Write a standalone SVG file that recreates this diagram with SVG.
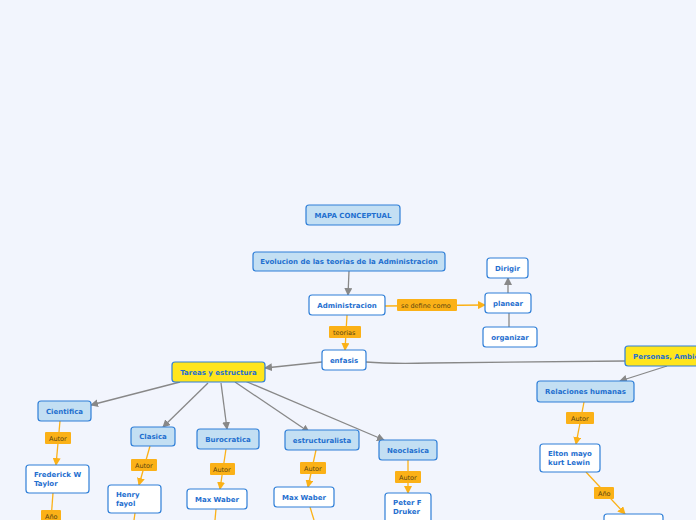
<svg xmlns="http://www.w3.org/2000/svg" width="696" height="520" viewBox="0 0 696 520">
<defs>
<marker id="ag" markerWidth="8" markerHeight="8" refX="7" refY="4" orient="auto" markerUnits="userSpaceOnUse"><path d="M0,0 L8,4 L0,8 Z" fill="#888"/></marker>
<marker id="ao" markerWidth="8" markerHeight="8" refX="7" refY="4" orient="auto" markerUnits="userSpaceOnUse"><path d="M0,0 L8,4 L0,8 Z" fill="#fbb117"/></marker>
</defs>
<style>
.bg{fill:#f2f5fd}
.n rect{stroke:#2f7fd8;stroke-width:1.2}
.b rect{fill:#c3dff3}
.w rect{fill:#ffffff}
.y rect{fill:#ffe51c}
.n text{font-family:"DejaVu Sans",Verdana,sans-serif;font-weight:bold;font-size:7px;fill:#1f6fcf}
.l rect{fill:#fbb117}
.l text{font-family:"DejaVu Sans",sans-serif;font-size:6.5px;fill:#5a4510}
.g{stroke:#888;stroke-width:1.3;fill:none}
.o{stroke:#fbb117;stroke-width:1.3;fill:none}
</style>
<rect class="bg" width="696" height="520"/>
<g id="connectors">
<line class="g" x1="349" y1="271" x2="348" y2="295" marker-end="url(#ag)"/>
<line class="o" x1="385" y1="306" x2="485" y2="305" marker-end="url(#ao)"/>
<line class="g" x1="508" y1="293" x2="508" y2="278" marker-end="url(#ag)"/>
<line class="g" x1="509" y1="327" x2="509" y2="313"/>
<line class="o" x1="347" y1="315" x2="345" y2="350" marker-end="url(#ao)"/>
<line class="g" x1="322" y1="362" x2="265" y2="368" marker-end="url(#ag)"/>
<path class="g" d="M366,362 Q390,364 430,363 L625,361"/>
<line class="g" x1="180" y1="382" x2="91" y2="405" marker-end="url(#ag)"/>
<line class="g" x1="208" y1="383" x2="163" y2="427" marker-end="url(#ag)"/>
<line class="g" x1="221" y1="383" x2="227" y2="429" marker-end="url(#ag)"/>
<line class="g" x1="235" y1="382" x2="309" y2="432" marker-end="url(#ag)"/>
<line class="g" x1="245" y1="381" x2="384" y2="440" marker-end="url(#ag)"/>
<line class="g" x1="667" y1="366" x2="620" y2="381" marker-end="url(#ag)"/>
<line class="o" x1="60" y1="421" x2="56" y2="465" marker-end="url(#ao)"/>
<line class="o" x1="53" y1="493" x2="51" y2="520"/>
<line class="o" x1="150" y1="446" x2="139" y2="485" marker-end="url(#ao)"/>
<line class="o" x1="135" y1="513" x2="134" y2="520"/>
<line class="o" x1="226" y1="449" x2="220" y2="489" marker-end="url(#ao)"/>
<line class="o" x1="216" y1="509" x2="215" y2="520"/>
<line class="o" x1="316" y1="450" x2="308" y2="487" marker-end="url(#ao)"/>
<line class="o" x1="310" y1="507" x2="314" y2="520"/>
<line class="o" x1="408" y1="460" x2="408" y2="493" marker-end="url(#ao)"/>
<line class="o" x1="584" y1="402" x2="576" y2="444" marker-end="url(#ao)"/>
<line class="o" x1="586" y1="472" x2="625" y2="514" marker-end="url(#ao)"/>
</g>
<g id="lbl-sedefine" class="l"><rect x="397" y="299" width="60" height="12" rx="1"/><text x="401" y="307.5">se define como</text></g>
<g id="lbl-teorias" class="l"><rect x="329" y="326" width="32" height="12" rx="1"/><text x="333" y="334.5">teorias</text></g>
<g id="lbl-autor1" class="l"><rect x="45" y="432" width="26" height="12" rx="1"/><text x="49" y="440.5">Autor</text></g>
<g id="lbl-ano1" class="l"><rect x="41" y="510" width="20" height="12" rx="1"/><text x="45" y="518.5">Año</text></g>
<g id="lbl-autor2" class="l"><rect x="131" y="459" width="26" height="12" rx="1"/><text x="135" y="467.5">Autor</text></g>
<g id="lbl-autor3" class="l"><rect x="210" y="463" width="25" height="12" rx="1"/><text x="213" y="471.5">Autor</text></g>
<g id="lbl-autor4" class="l"><rect x="300" y="462" width="26" height="12" rx="1"/><text x="304" y="470.5">Autor</text></g>
<g id="lbl-autor5" class="l"><rect x="395" y="471" width="26" height="12" rx="1"/><text x="399" y="479.5">Autor</text></g>
<g id="lbl-autor6" class="l"><rect x="566" y="412" width="28" height="12" rx="1"/><text x="571" y="420.5">Autor</text></g>
<g id="lbl-ano2" class="l"><rect x="594" y="487" width="20" height="12" rx="1"/><text x="598" y="495.5">Año</text></g>

<g id="n-mapa" class="n b"><rect x="306" y="205" width="94" height="20" rx="3"/><text x="353" y="217.5" text-anchor="middle">MAPA CONCEPTUAL</text></g>
<g id="n-evolucion" class="n b"><rect x="253" y="252" width="192" height="19" rx="3"/><text x="349" y="264" text-anchor="middle">Evolucion de las teorias de la Administracion</text></g>
<g id="n-admin" class="n w"><rect x="309" y="295" width="76" height="20" rx="3"/><text x="347" y="307.5" text-anchor="middle">Administracion</text></g>
<g id="n-dirigir" class="n w"><rect x="487" y="258" width="41" height="20" rx="3"/><text x="507.5" y="270.5" text-anchor="middle">Dirigir</text></g>
<g id="n-planear" class="n w"><rect x="485" y="293" width="46" height="20" rx="3"/><text x="508" y="305.5" text-anchor="middle">planear</text></g>
<g id="n-organizar" class="n w"><rect x="483" y="327" width="54" height="20" rx="3"/><text x="510" y="339.5" text-anchor="middle">organizar</text></g>
<g id="n-enfasis" class="n w"><rect x="322" y="350" width="44" height="20" rx="3"/><text x="344" y="362.5" text-anchor="middle">enfasis</text></g>
<g id="n-tareas" class="n y"><rect x="172" y="362" width="93" height="20" rx="3"/><text x="218.5" y="374.5" text-anchor="middle">Tareas y estructura</text></g>
<g id="n-personas" class="n y"><rect x="625" y="346" width="90" height="20" rx="3"/><text x="633" y="358.5">Personas, Ambiente</text></g>
<g id="n-relaciones" class="n b"><rect x="537" y="381" width="97" height="21" rx="3"/><text x="585.5" y="394" text-anchor="middle">Relaciones humanas</text></g>
<g id="n-elton" class="n w"><rect x="540" y="444" width="60" height="28" rx="3"/><text x="548" y="455.5">Elton mayo</text><text x="548" y="465">kurt Lewin</text></g>
<g id="n-bottom" class="n w"><rect x="604" y="514" width="59" height="20" rx="3"/></g>
<g id="n-cientifica" class="n b"><rect x="38" y="401" width="53" height="20" rx="3"/><text x="64.5" y="413.5" text-anchor="middle">Cientifica</text></g>
<g id="n-frederick" class="n w"><rect x="26" y="465" width="63" height="28" rx="3"/><text x="34" y="477">Frederick W</text><text x="34" y="486">Taylor</text></g>
<g id="n-clasica" class="n b"><rect x="131" y="427" width="44" height="19" rx="3"/><text x="153" y="439" text-anchor="middle">Clasica</text></g>
<g id="n-henry" class="n w"><rect x="108" y="485" width="53" height="28" rx="3"/><text x="116" y="497">Henry</text><text x="116" y="506">fayol</text></g>
<g id="n-burocratica" class="n b"><rect x="197" y="429" width="62" height="20" rx="3"/><text x="228" y="441.5" text-anchor="middle">Burocratica</text></g>
<g id="n-max1" class="n w"><rect x="187" y="489" width="60" height="20" rx="3"/><text x="217" y="501.5" text-anchor="middle">Max Waber</text></g>
<g id="n-estructuralista" class="n b"><rect x="285" y="430" width="74" height="20" rx="3"/><text x="322" y="442.5" text-anchor="middle">estructuralista</text></g>
<g id="n-max2" class="n w"><rect x="274" y="487" width="60" height="20" rx="3"/><text x="304" y="499.5" text-anchor="middle">Max Waber</text></g>
<g id="n-neoclasica" class="n b"><rect x="379" y="440" width="58" height="20" rx="3"/><text x="408" y="452.5" text-anchor="middle">Neoclasica</text></g>
<g id="n-peter" class="n w"><rect x="385" y="493" width="46" height="30" rx="3"/><text x="393" y="505">Peter F</text><text x="393" y="514">Druker</text></g>
</svg>
